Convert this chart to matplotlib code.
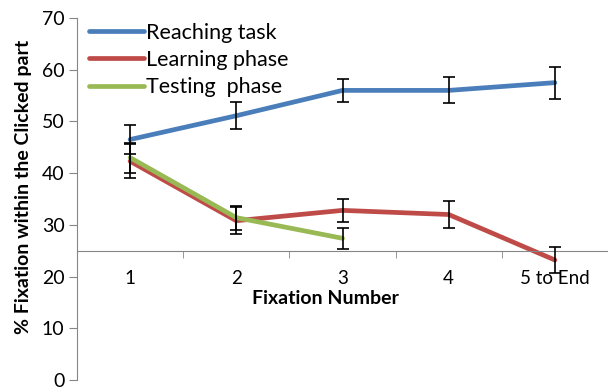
import matplotlib
matplotlib.use('Agg')
import matplotlib.pyplot as plt
import numpy as np

plt.rcParams['font.family'] = ['Lato', 'DejaVu Sans']

categories = ['1', '2', '3', '4', '5 to End']

reaching = [46.5, 51.1, 56.0, 56.0, 57.5]
reaching_err = [2.8, 2.6, 2.3, 2.5, 3.1]

learning = [42.3, 30.8, 32.8, 32.0, 23.2]
learning_err = [3.3, 2.6, 2.2, 2.7, 2.6]

testing = [43.0, 31.4, 27.4]
testing_err = [2.9, 2.3, 2.0]

x = np.arange(1, len(categories) + 1)

fig = plt.figure(figsize=(6.08, 3.87), dpi=100)
fig.patch.set_facecolor('white')
ax = fig.add_axes([77/608, 7/387, 531/608, 362/387])

grey = '#868686'
ax.plot(x, reaching, color='#4A7EBB', lw=3.4, solid_capstyle='round', label='Reaching task', zorder=2)
ax.plot(x, learning, color='#BE4B48', lw=3.4, solid_capstyle='round', label='Learning phase', zorder=2)
ax.plot(x[:len(testing)], testing, color='#98B954', lw=3.4, solid_capstyle='round', label='Testing  phase', zorder=2)

for vals, errs in [(reaching, reaching_err), (learning, learning_err), (testing, testing_err)]:
    ax.errorbar(x[:len(vals)], vals, yerr=errs, fmt='none', ecolor='black',
                elinewidth=1.2, capsize=4.5, capthick=1.2, zorder=3)

ax.set_xlim(0.5, 5.5)
ax.set_ylim(0, 70)
ax.set_yticks(np.arange(0, 71, 10))

ax.spines['top'].set_visible(False)
ax.spines['right'].set_visible(False)
ax.spines['left'].set_color(grey)
ax.spines['bottom'].set_color(grey)
ax.spines['bottom'].set_position(('data', 25))

ax.set_xticks(x)
ax.set_xticklabels(categories)
ax.set_xticks(np.arange(1.5, 6.0, 1.0), minor=True)
ax.tick_params(axis='x', which='major', length=0, pad=14, labelsize=13.5)
ax.tick_params(axis='x', which='minor', length=5, direction='out', color=grey)
ax.tick_params(axis='y', length=6, direction='out', color=grey, labelsize=14, pad=3)

ax.set_xlabel('Fixation Number', fontsize=14, fontweight='bold')
ax.xaxis.set_label_coords(0.468, 0.25)
ax.set_ylabel('% Fixation within the Clicked part', fontsize=14, fontweight='bold')
ax.yaxis.set_label_coords(-0.085, 0.533)

ax.legend(loc='upper left', bbox_to_anchor=(0.0, 1.02), frameon=False, fontsize=15.5,
          handlelength=2.55, handletextpad=0.12, labelspacing=0.34, borderaxespad=0.15)

fig.savefig('out.png', dpi=100)
